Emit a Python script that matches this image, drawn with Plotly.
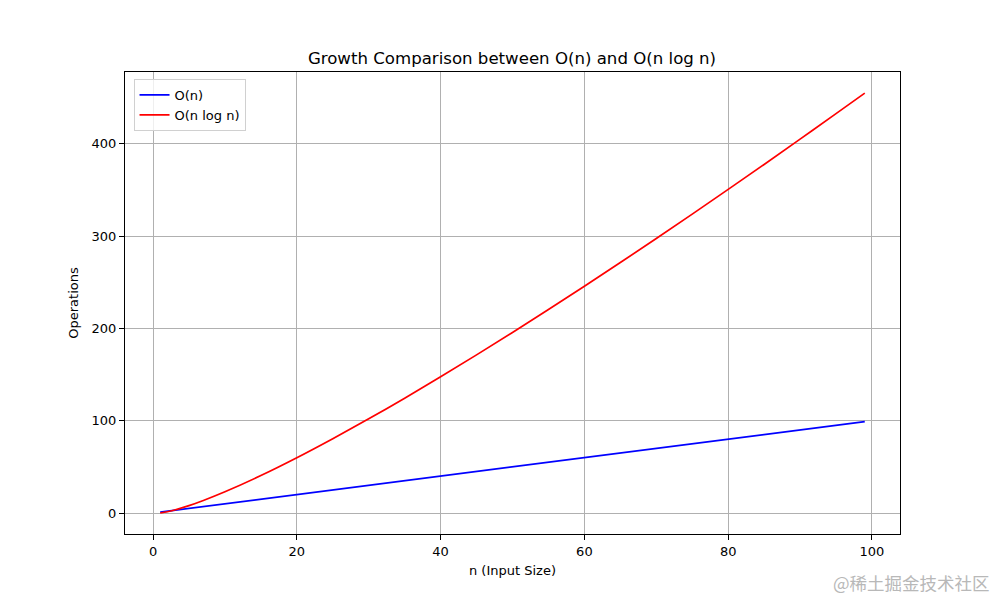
import plotly.graph_objects as go

# Values
n_values = [1, 2, 3, 5, 7, 10, 15, 20, 25, 30, 35, 40, 45, 50, 55, 60, 65, 70, 75, 80, 85, 90, 95, 99]
o_n = [1, 2, 3, 5, 7, 10, 15, 20, 25, 30, 35, 40, 45, 50, 55, 60, 65, 70, 75, 80, 85, 90, 95, 99]
o_nlogn = [0, 1.4, 3.3, 8.0, 13.6, 23.0, 40.6, 59.9, 80.5, 102.0, 124.4, 147.6, 171.3, 195.6, 220.4,
           245.7, 271.3, 297.4, 323.8, 350.6, 377.6, 405.0, 432.6, 454.9]
x_ticks = [0, 20, 40, 60, 80, 100]
y_ticks = [0, 100, 200, 300, 400]

font = "DejaVu Sans"

fig = go.Figure()
fig.add_trace(go.Scatter(x=n_values, y=o_n, mode="lines", name="O(n)",
                         line=dict(color="blue", width=1.7)))
fig.add_trace(go.Scatter(x=n_values, y=o_nlogn, mode="lines", name="O(n log n)",
                         line=dict(color="red", width=1.7, shape="spline")))

axis_common = dict(showgrid=True, gridcolor="#b0b0b0", gridwidth=1,
                   showline=True, linecolor="black", linewidth=1, mirror=True,
                   ticks="outside", ticklen=5, tickcolor="black", tickwidth=1,
                   zeroline=False, tickfont=dict(family=font, size=13, color="black"))

fig.update_layout(
    width=1000, height=600,
    paper_bgcolor="white", plot_bgcolor="white",
    margin=dict(l=117, r=108, t=64, b=74),
    title=dict(text="Growth Comparison between O(n) and O(n log n)",
               x=0.504, xanchor="center", y=0.9167, yanchor="middle",
               font=dict(family=font, size=16.6, color="black")),
    xaxis=dict(range=[-3.9, 103.9], tickvals=x_ticks,
               title=dict(text="n (Input Size)", font=dict(family=font, size=13, color="black"), standoff=8),
               **axis_common),
    yaxis=dict(range=[-22.75, 477.75], tickvals=y_ticks,
               title=dict(text="Operations", font=dict(family=font, size=13, color="black"), standoff=10),
               **axis_common),
    legend=dict(x=0.011, y=0.985, xanchor="left", yanchor="top",
                bgcolor="rgba(255,255,255,0.8)", bordercolor="#d0d0d0", borderwidth=1,
                font=dict(family=font, size=13, color="black"),
                tracegroupgap=0, itemwidth=30),
    showlegend=True,
)

fig.add_annotation(text="@稀土掘金技术社区", xref="paper", yref="paper",
                   x=1.1187, y=-0.106, xanchor="right", yanchor="middle", showarrow=False,
                   font=dict(family="Noto Sans CJK SC", size=17.5, color="#b8b8b8"))

fig.write_html("out.html")
